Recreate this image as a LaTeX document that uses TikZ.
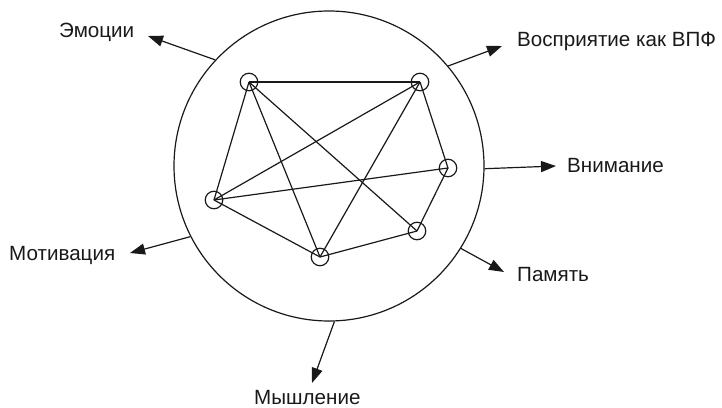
\documentclass[tikz,border=0pt]{standalone}
\usepackage{fontspec}
\setmainfont{Liberation Sans}
\usetikzlibrary{arrows.meta}
\begin{document}
\begin{tikzpicture}[x=1pt,y=-1pt,
  lw/.style={line width=1.2pt,draw=black!90},
  vtx/.style={circle,lw,minimum size=17.5pt,inner sep=0pt},
  edge/.style={lw},
  outarrow/.style={lw,-{Triangle[length=15pt,width=11pt]}},
  lab/.style={inner sep=0pt,anchor=base west,text=black!90,font=\fontsize{20.6}{24}\selectfont}]
\useasboundingbox (0,0) rectangle (722,407);
\node[circle,lw,minimum size=310pt,inner sep=0pt] (big) at (329,166) {};
% inner vertices
\node[vtx] (A) at (249,82) {};
\node[vtx] (B) at (420,82) {};
\node[vtx] (C) at (448,168) {};
\node[vtx] (D) at (214,200) {};
\node[vtx] (E) at (320,257) {};
\node[vtx] (F) at (417,231) {};
\foreach \u/\v in {A/B,A/D,A/E,A/F,B/D,B/E,B/C,D/C,C/F,D/E,E/F}
  \draw[edge] (\u.center) -- (\v.center);
% labels
\node[lab] (emo) at (59,37) {Эмоции};
\node[lab] (vos) at (517,46) {Восприятие как ВПФ};
\node[lab] (vni) at (567,172) {Внимание};
\node[lab] (pam) at (517,281) {Память};
\node[lab] (mys) at (254,404) {Мышление};
\node[lab] (mot) at (9,260) {Мотивация};
% arrow tips
\coordinate (tEmo) at (148,36);
\coordinate (tVos) at (502,46);
\coordinate (tVni) at (556,166);
\coordinate (tPam) at (504,272);
\coordinate (tMys) at (312,383);
\coordinate (tMot) at (130,253);
\draw[outarrow] (big.137.3) -- (tEmo);
\draw[outarrow] (big.40) -- (tVos);
\draw[outarrow] (big.-1.5) -- (tVni);
\draw[outarrow] (big.-32.5) -- (tPam);
\draw[outarrow] (big.-88.5) -- (tMys);
\draw[outarrow] (big.-153.3) -- (tMot);
\end{tikzpicture}
\end{document}
